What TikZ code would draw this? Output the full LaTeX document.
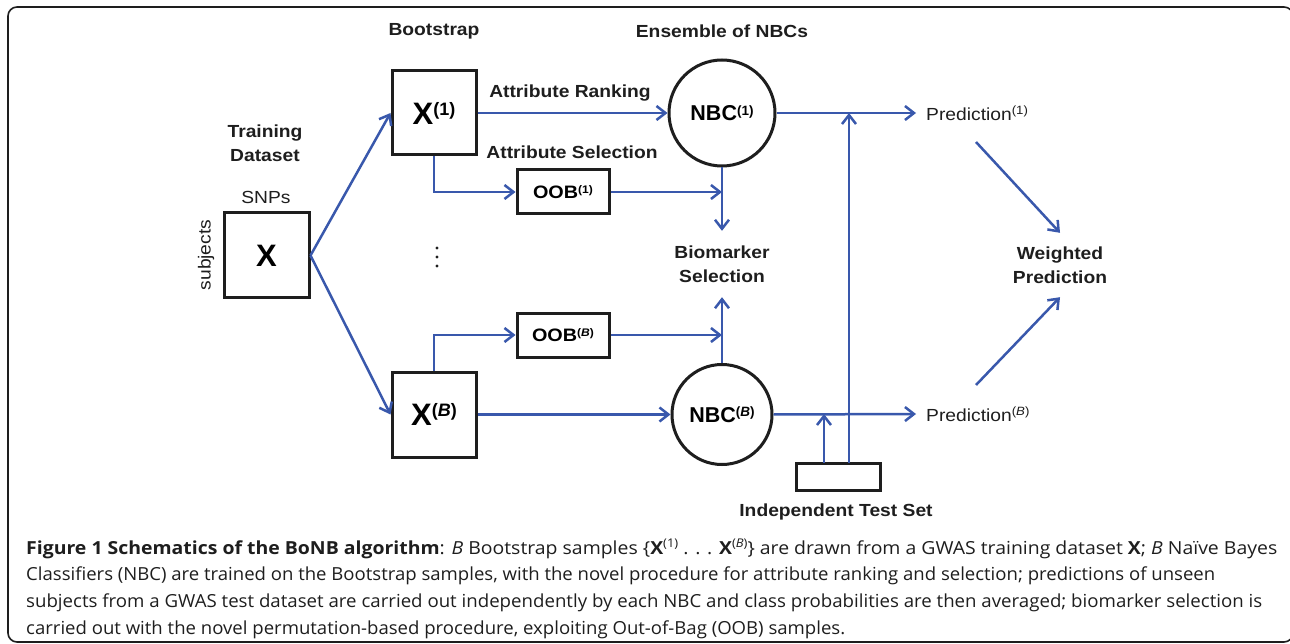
\documentclass[tikz,border=0pt]{standalone}
\usepackage{fontspec}
\usepackage{graphicx}
\setmainfont{Liberation Sans}
\newfontfamily\labfont[FakeStretch=1.1]{Liberation Sans}
\newfontfamily\capfont{Open Sans}
\usetikzlibrary{arrows.meta}

\definecolor{flow}{RGB}{57,88,172}
\definecolor{ink}{RGB}{30,30,30}

% raised superscript: size, raise, text
\newcommand{\supr}[3]{\raisebox{#2}{\fontsize{#1}{#1}\selectfont\bfseries #3}}
% caption line stretched to a given width
\newcommand{\capline}[2]{\resizebox{#1}{\height}{#2}}

\tikzset{
  flowline/.style={draw=flow, line width=2.5pt},
  arr/.style={flowline, -{Straight Barb[length=9pt,width=14pt]}},
  boxnode/.style={draw=ink, line width=3pt, rectangle, inner sep=0pt},
  nbcnode/.style={draw=ink, line width=3pt, circle, inner sep=0pt},
  lab/.style={font=\labfont\bfseries\fontsize{17.5}{24}\selectfont, text=ink, align=center, inner sep=0pt},
  plain/.style={font=\labfont\fontsize{17.5}{24}\selectfont, text=ink, inner sep=0pt},
  capt/.style={anchor=base west, inner sep=0pt, text=ink, font=\capfont\fontsize{18}{26}\selectfont}
}

\begin{document}
\begin{tikzpicture}[x=1pt, y=-1pt]
\useasboundingbox (0,0) rectangle (1290,644);
\fill[white] (0,0) rectangle (1290,644);

% outer frame
\draw[ink, line width=1.6pt, rounded corners=9pt] (8,7) rectangle (1293,642);

% column headings
\node[lab] (hboot) at (434,31) {Bootstrap};
\node[lab] (hens) at (722,31) {Ensemble of NBCs};
\node[lab] (htrain) at (265,143) {Training\\Dataset};

% training data matrix
\node[boxnode, minimum width=85pt, minimum height=85pt] (xbox) at (266.5,255.5)
  {\fontsize{31}{31}\selectfont\bfseries X};
\node[plain] (snps) at (266,197) {SNPs};
\node[plain, rotate=90] (subj) at (206,255) {subjects};

% bootstrap samples
\node[boxnode, minimum width=84pt, minimum height=84pt] (x1) at (434,113)
  {\fontsize{31}{31}\selectfont\bfseries X\supr{18}{9pt}{(1)}};
\node[boxnode, minimum width=84pt, minimum height=85pt] (xB) at (434,414.5)
  {\fontsize{31}{31}\selectfont\bfseries X\supr{18}{9pt}{(\textit{B})}};

% vertical ellipsis between the samples
\foreach \yy in {248,257,266} \fill[ink] (437,\yy) circle (1.6pt);

% out-of-bag sets
\node[boxnode, minimum width=92pt, minimum height=44pt] (oob1) at (563,192)
  {\labfont\fontsize{18}{18}\selectfont\bfseries OOB\supr{11}{5pt}{(1)}};
\node[boxnode, minimum width=92pt, minimum height=44pt] (oobB) at (563,335)
  {\labfont\fontsize{18}{18}\selectfont\bfseries OOB\supr{11}{5pt}{(\textit{B})}};

% classifiers
\node[nbcnode, minimum size=106pt] (nbc1) at (722,113)
  {\fontsize{21.5}{21.5}\selectfont\bfseries NBC\supr{13.5}{5.5pt}{(1)}};
\node[nbcnode, minimum size=100pt] (nbcB) at (722,414.5)
  {\fontsize{21.5}{21.5}\selectfont\bfseries NBC\supr{13.5}{5.5pt}{(\textit{B})}};

% edge labels
\node[lab] (lrank) at (570,93) {Attribute Ranking};
\node[lab] (lsel) at (572,152) {Attribute Selection};

% biomarker selection and predictions
\node[lab, minimum height=66pt] (bio) at (722,264) {Biomarker\\Selection};
\node[plain, anchor=west, inner xsep=10pt] (pred1) at (916,113)
  {Prediction\raisebox{5.5pt}{\fontsize{12}{12}\selectfont (1)}};
\node[plain, anchor=west, inner xsep=10pt] (predB) at (916,414)
  {Prediction\raisebox{5.5pt}{\fontsize{12}{12}\selectfont (\textit{B})}};
\node[lab, minimum height=64pt] (wp) at (1060,265) {Weighted\\Prediction};

% independent test set
\node[boxnode, minimum width=84pt, minimum height=27pt] (test) at (838,476.5) {};
\node[lab] (ltest) at (836,512) {Independent Test Set};

% junction points
\coordinate (j1) at (722,192);
\coordinate (jB) at (722,335);
\coordinate (t1) at (849,113);
\coordinate (t1b) at (849,463);
\coordinate (tB) at (824,414);
\coordinate (tBb) at (824,463);
\coordinate (p1s) at (976,142);
\coordinate (pBs) at (976,385);

% connectors
\draw[arr] (xbox.east) -- (x1.west);
\draw[arr] (xbox.east) -- (xB.west);
\draw[arr] (x1.east) -- (nbc1.west);
\draw[arr] (xB.east) -- (nbcB.west);
\draw[arr] (x1.south) |- (oob1.west);
\draw[arr] (xB.north) |- (oobB.west);
\draw[arr] (oob1.east) -- (j1);
\draw[arr] (oobB.east) -- (jB);
\draw[arr] (nbc1.south) -- (bio.north);
\draw[arr] (nbcB.north) -- (bio.south);
\draw[arr] (nbc1.east) -- (pred1.west);
\draw[arr] (nbcB.east) -- (predB.west);
\draw[arr] (t1b) -- (t1);
\draw[arr] (tBb) -- (tB);
\draw[arr] (p1s) -- (wp.north);
\draw[arr] (pBs) -- (wp.south);

% caption
\node[capt] (c1) at (26,554) {\capline{1251pt}{\textbf{Figure 1 Schematics of the BoNB algorithm}: \textit{B} Bootstrap samples \{\textbf{X}\raisebox{6.5pt}{\fontsize{12}{12}\selectfont (1)} . . . \textbf{X}\raisebox{6.5pt}{\fontsize{12}{12}\selectfont (\textit{B})}\} are drawn from a GWAS training dataset \textbf{X}; \textit{B} Naïve Bayes}};
\node[capt] (c2) at (26,580.7) {\capline{1189pt}{Classifiers (NBC) are trained on the Bootstrap samples, with the novel procedure for attribute ranking and selection; predictions of unseen}};
\node[capt] (c3) at (26,607.3) {\capline{1236pt}{subjects from a GWAS test dataset are carried out independently by each NBC and class probabilities are then averaged; biomarker selection is}};
\node[capt] (c4) at (26,634) {\capline{819pt}{carried out with the novel permutation-based procedure, exploiting Out-of-Bag (OOB) samples.}};
\end{tikzpicture}
\end{document}
